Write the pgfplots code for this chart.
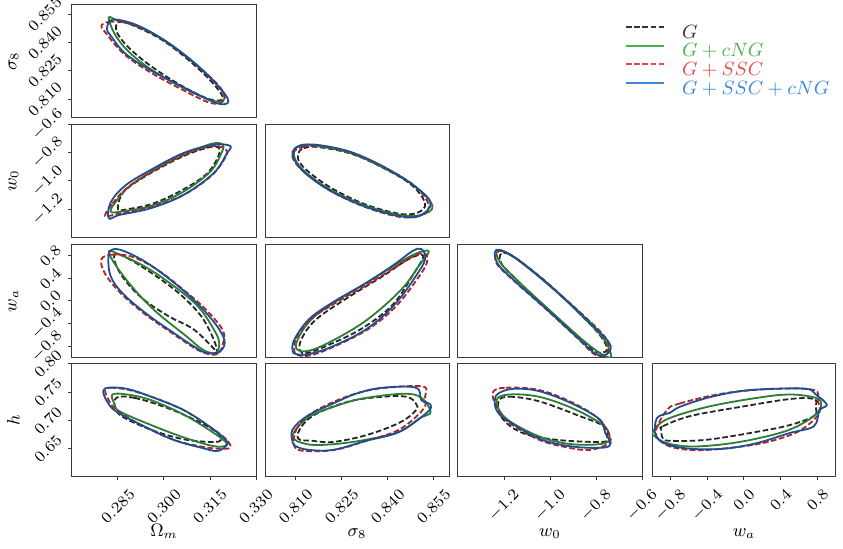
\RequirePackage{fix-cm}
\documentclass[border=0pt]{standalone}
\usepackage{graphicx}
\usepackage{xcolor}
\usepackage{pgfplots}
\pgfplotsset{compat=1.18}

\definecolor{axgray}{HTML}{3A3A3A}
\definecolor{cblack}{HTML}{262626}
\definecolor{cgreen}{HTML}{2E7D32}
\definecolor{cred}{HTML}{B22222}
\definecolor{cblue}{HTML}{1F4E93}
\definecolor{lblack}{HTML}{333333}
\definecolor{lgreen}{HTML}{4CAF50}
\definecolor{lred}{HTML}{E8484A}
\definecolor{lblue}{HTML}{3A86D8}

\tikzset{ylab/.style={rotate=45, anchor=center, inner sep=0pt, font=\fontsize{7.8}{9.5}\selectfont}}

\pgfplotsset{
  corner/.style={scale only axis, width=92pt, height=56.5pt, clip=true,
    axis line style={draw=axgray, line width=0.5pt},
    tick style={axgray, line width=0.5pt},
    tick align=outside, major tick length=1.75pt,
    xtick pos=left, ytick pos=left,
    xtick=\empty, ytick=\empty,
    scaled ticks=false,
    tick label style={font=\fontsize{7.8}{9.5}\selectfont, inner sep=0pt},
    xticklabel style={anchor=north, yshift=-3.75pt},
    xticklabel={\rotatebox{45}{$\pgfmathprintnumber{\tick}$}},
    label style={font=\fontsize{9}{11}\selectfont},
    xlabel style={at={(axis description cs:0.5,-0.53)}, anchor=base},
    ylabel style={at={(axis description cs:-0.318,0.5)}, anchor=center},
    anchor=north west},
  xOm/.style={xmin=0.27,xmax=0.33},
  xs8/.style={xmin=0.80,xmax=0.86},
  xw0/.style={xmin=-1.4,xmax=-0.6},
  xwa/.style={xmin=-1,xmax=1},
  ys8/.style={ymin=0.80,ymax=0.86},
  yw0/.style={ymin=-1.4,ymax=-0.6},
  ywa/.style={ymin=-1,ymax=1},
  yh/.style={ymin=0.6,ymax=0.8},
  sG/.style={cblack, line width=0.9pt, dash pattern=on 2.8pt off 1.3pt, smooth cycle, tension=0.6},
  sGc/.style={cgreen, line width=0.9pt, smooth cycle, tension=0.6},
  sGS/.style={cred, line width=0.9pt, dash pattern=on 2.8pt off 1.3pt, smooth cycle, tension=0.6},
  sGSc/.style={cblue, line width=0.9pt, smooth cycle, tension=0.6},
}

\begin{document}
\begin{tikzpicture}
\useasboundingbox (0pt,0pt) rectangle (421.5pt,-274.5pt);

% ---------- row 1: sigma8 vs Omega_m
\begin{axis}[corner, xOm, ys8, at={(36pt,-2.5pt)},
  ytick={0.810,0.825,0.840,0.855}, yticklabels={},
  ylabel={$\sigma_8$},
  extra description/.code={
    \node[ylab] at ([xshift=-13.5pt]axis description cs:0,0.1667) {$0.810$};
    \node[ylab] at ([xshift=-13.5pt]axis description cs:0,0.4167) {$0.825$};
    \node[ylab] at ([xshift=-13.5pt]axis description cs:0,0.6667) {$0.840$};
    \node[ylab] at ([xshift=-13.5pt]axis description cs:0,0.9167) {$0.855$};
  }]
\addplot[sG] coordinates {(0.2844,0.8492) (0.2862,0.8510) (0.2916,0.8480) (0.3000,0.8408) (0.3090,0.8294) (0.3162,0.8180) (0.3192,0.8102) (0.3144,0.8102) (0.3048,0.8180) (0.2952,0.8282) (0.2886,0.8372) (0.2850,0.8444)};
\addplot[sGc] coordinates {(0.2820,0.8534) (0.2850,0.8516) (0.2916,0.8486) (0.3000,0.8414) (0.3090,0.8306) (0.3168,0.8186) (0.3198,0.8108) (0.3162,0.8090) (0.3060,0.8162) (0.2952,0.8264) (0.2880,0.8360) (0.2838,0.8450)};
\addplot[sGS] coordinates {(0.2796,0.8492) (0.2820,0.8510) (0.2880,0.8504) (0.2976,0.8438) (0.3078,0.8318) (0.3174,0.8180) (0.3198,0.8102) (0.3156,0.8078) (0.3060,0.8150) (0.2952,0.8246) (0.2868,0.8342) (0.2808,0.8456)};
\addplot[sGSc] coordinates {(0.2814,0.8474) (0.2832,0.8522) (0.2904,0.8498) (0.2988,0.8426) (0.3084,0.8312) (0.3174,0.8174) (0.3210,0.8090) (0.3174,0.8078) (0.3072,0.8156) (0.2958,0.8252) (0.2874,0.8342) (0.2826,0.8438)};
\end{axis}

% ---------- row 2: w0
\begin{axis}[corner, xOm, yw0, at={(36pt,-62.25pt)},
  ytick={-1.2,-1.0,-0.8,-0.6}, yticklabels={},
  ylabel={$w_0$},
  extra description/.code={
    \node[ylab] at ([xshift=-12.3pt]axis description cs:0,0.25) {$-1.2$};
    \node[ylab] at ([xshift=-12.3pt]axis description cs:0,0.50) {$-1.0$};
    \node[ylab] at ([xshift=-12.3pt]axis description cs:0,0.75) {$-0.8$};
    \node[ylab] at ([xshift=-12.3pt]axis description cs:0,1.00) {$-0.6$};
  }]
\addplot[sG] coordinates {(0.2850,-1.200) (0.2862,-1.096) (0.2898,-1.024) (0.2976,-0.920) (0.3072,-0.816) (0.3150,-0.760) (0.3180,-0.768) (0.3174,-0.840) (0.3138,-0.952) (0.3060,-1.064) (0.2964,-1.160) (0.2880,-1.200)};
\addplot[sGc] coordinates {(0.2826,-1.216) (0.2844,-1.144) (0.2886,-1.040) (0.2970,-0.920) (0.3072,-0.808) (0.3156,-0.736) (0.3192,-0.744) (0.3186,-0.808) (0.3150,-0.936) (0.3060,-1.080) (0.2958,-1.176) (0.2862,-1.216)};
\addplot[sGS] coordinates {(0.2808,-1.248) (0.2832,-1.160) (0.2880,-1.048) (0.2964,-0.928) (0.3072,-0.808) (0.3162,-0.752) (0.3204,-0.784) (0.3198,-0.840) (0.3156,-0.960) (0.3066,-1.096) (0.2958,-1.184) (0.2850,-1.232)};
\addplot[sGSc] coordinates {(0.2820,-1.264) (0.2826,-1.152) (0.2874,-1.032) (0.2958,-0.920) (0.3066,-0.800) (0.3162,-0.744) (0.3216,-0.752) (0.3204,-0.808) (0.3162,-0.944) (0.3066,-1.096) (0.2958,-1.192) (0.2856,-1.240)};
\end{axis}

\begin{axis}[corner, xs8, yw0, at={(132.5pt,-62.25pt)}]
\addplot[sG] coordinates {(0.8108,-0.808) (0.8126,-0.768) (0.8174,-0.760) (0.8282,-0.808) (0.8390,-0.912) (0.8480,-1.032) (0.8522,-1.160) (0.8498,-1.224) (0.8438,-1.232) (0.8330,-1.168) (0.8228,-1.064) (0.8156,-0.960) (0.8114,-0.872)};
\addplot[sGc] coordinates {(0.8096,-0.784) (0.8120,-0.744) (0.8168,-0.752) (0.8276,-0.800) (0.8384,-0.904) (0.8486,-1.032) (0.8546,-1.176) (0.8510,-1.240) (0.8438,-1.240) (0.8330,-1.176) (0.8222,-1.072) (0.8144,-0.960) (0.8102,-0.864)};
\addplot[sGS] coordinates {(0.8090,-0.808) (0.8120,-0.760) (0.8180,-0.752) (0.8282,-0.800) (0.8390,-0.904) (0.8486,-1.032) (0.8534,-1.168) (0.8510,-1.240) (0.8444,-1.256) (0.8336,-1.192) (0.8228,-1.088) (0.8150,-0.976) (0.8102,-0.880)};
\addplot[sGSc] coordinates {(0.8090,-0.792) (0.8114,-0.752) (0.8168,-0.744) (0.8276,-0.792) (0.8384,-0.896) (0.8480,-1.024) (0.8540,-1.152) (0.8504,-1.248) (0.8438,-1.248) (0.8330,-1.184) (0.8222,-1.080) (0.8144,-0.968) (0.8102,-0.872)};
\end{axis}

% ---------- row 3: wa
\begin{axis}[corner, xOm, ywa, at={(36pt,-122.25pt)},
  ytick={-0.8,-0.4,0,0.4,0.8}, yticklabels={},
  ylabel={$w_a$},
  extra description/.code={
    \node[ylab] at ([xshift=-12.6pt]axis description cs:0,0.1) {$-0.8$};
    \node[ylab] at ([xshift=-12.6pt]axis description cs:0,0.3) {$-0.4$};
    \node[ylab] at ([xshift=-10.8pt]axis description cs:0,0.5) {$0.0$};
    \node[ylab] at ([xshift=-10.8pt]axis description cs:0,0.7) {$0.4$};
    \node[ylab] at ([xshift=-10.8pt]axis description cs:0,0.9) {$0.8$};
  }]
\addplot[sG] coordinates {(0.2838,0.82) (0.2880,0.76) (0.2958,0.50) (0.3048,0.14) (0.3120,-0.26) (0.3162,-0.68) (0.3174,-0.92) (0.3162,-0.84) (0.3096,-0.50) (0.3012,-0.26) (0.2922,0.08) (0.2856,0.50)};
\addplot[sGc] coordinates {(0.2820,0.88) (0.2856,0.82) (0.2934,0.62) (0.3018,0.32) (0.3108,-0.08) (0.3162,-0.50) (0.3180,-0.74) (0.3168,-0.92) (0.3126,-0.86) (0.3072,-0.62) (0.2976,-0.20) (0.2904,0.20) (0.2844,0.62)};
\addplot[sGS] coordinates {(0.2796,0.74) (0.2832,0.82) (0.2898,0.78) (0.2982,0.54) (0.3072,0.16) (0.3138,-0.16) (0.3192,-0.52) (0.3192,-0.76) (0.3174,-0.94) (0.3132,-0.92) (0.3090,-0.80) (0.3024,-0.56) (0.2940,-0.24) (0.2862,0.12) (0.2808,0.48)};
\addplot[sGSc] coordinates {(0.2820,0.82) (0.2844,0.92) (0.2904,0.80) (0.2976,0.56) (0.3060,0.20) (0.3126,-0.14) (0.3180,-0.50) (0.3198,-0.74) (0.3180,-0.90) (0.3138,-0.92) (0.3096,-0.80) (0.3030,-0.56) (0.2946,-0.24) (0.2868,0.12) (0.2826,0.44)};
\end{axis}

\begin{axis}[corner, xs8, ywa, at={(132.5pt,-122.25pt)}]
\addplot[sG] coordinates {(0.8114,-0.88) (0.8120,-0.66) (0.8168,-0.32) (0.8276,0.08) (0.8384,0.44) (0.8468,0.74) (0.8516,0.80) (0.8480,0.44) (0.8414,-0.08) (0.8312,-0.50) (0.8198,-0.80) (0.8138,-0.92)};
\addplot[sGc] coordinates {(0.8102,-0.84) (0.8114,-0.60) (0.8156,-0.30) (0.8228,-0.02) (0.8336,0.34) (0.8426,0.64) (0.8492,0.84) (0.8534,0.88) (0.8504,0.64) (0.8444,0.20) (0.8336,-0.32) (0.8228,-0.68) (0.8144,-0.88)};
\addplot[sGS] coordinates {(0.8096,-0.90) (0.8102,-0.66) (0.8150,-0.32) (0.8228,-0.04) (0.8336,0.30) (0.8426,0.60) (0.8486,0.80) (0.8522,0.84) (0.8528,0.68) (0.8498,0.40) (0.8426,-0.10) (0.8336,-0.50) (0.8228,-0.80) (0.8150,-0.96) (0.8108,-0.96)};
\addplot[sGSc] coordinates {(0.8090,-0.88) (0.8096,-0.68) (0.8144,-0.32) (0.8222,-0.02) (0.8330,0.32) (0.8420,0.64) (0.8480,0.88) (0.8510,0.92) (0.8522,0.74) (0.8492,0.44) (0.8420,-0.08) (0.8330,-0.50) (0.8222,-0.80) (0.8144,-0.94) (0.8102,-0.94)};
\end{axis}

\begin{axis}[corner, xw0, ywa, at={(229pt,-122.25pt)}]
\addplot[sG] coordinates {(-1.216,0.82) (-1.184,0.84) (-1.128,0.70) (-1.000,0.28) (-0.872,-0.22) (-0.784,-0.60) (-0.752,-0.84) (-0.776,-0.92) (-0.816,-0.86) (-0.880,-0.62) (-1.016,-0.12) (-1.136,0.34) (-1.208,0.64)};
\addplot[sGc] coordinates {(-1.232,0.88) (-1.200,0.88) (-1.136,0.72) (-1.008,0.30) (-0.872,-0.22) (-0.776,-0.62) (-0.744,-0.84) (-0.736,-1.00) (-0.784,-0.92) (-0.872,-0.64) (-1.008,-0.14) (-1.136,0.34) (-1.216,0.68)};
\addplot[sGS] coordinates {(-1.232,0.84) (-1.208,0.88) (-1.136,0.72) (-1.008,0.30) (-0.864,-0.22) (-0.768,-0.60) (-0.744,-0.80) (-0.760,-0.96) (-0.808,-0.94) (-0.880,-0.66) (-1.024,-0.12) (-1.152,0.34) (-1.232,0.66)};
\addplot[sGSc] coordinates {(-1.240,0.86) (-1.216,0.90) (-1.144,0.74) (-1.016,0.32) (-0.872,-0.20) (-0.768,-0.62) (-0.736,-0.80) (-0.752,-0.94) (-0.800,-0.94) (-0.872,-0.68) (-1.016,-0.14) (-1.144,0.32) (-1.224,0.64)};
\end{axis}

% ---------- row 4: h
\begin{axis}[corner, xOm, yh, at={(36pt,-182pt)},
  xtick={0.285,0.300,0.315,0.330},
  xticklabel style={/pgf/number format/.cd,fixed,fixed zerofill,precision=3},
  ytick={0.65,0.70,0.75,0.80}, yticklabels={},
  xlabel={$\Omega_m$}, ylabel={$h$},
  extra description/.code={
    \node[ylab] at ([xshift=-12pt]axis description cs:0,0.25) {$0.65$};
    \node[ylab] at ([xshift=-12pt]axis description cs:0,0.50) {$0.70$};
    \node[ylab] at ([xshift=-12pt]axis description cs:0,0.75) {$0.75$};
    \node[ylab] at ([xshift=-12pt]axis description cs:0,1.00) {$0.80$};
  }]
\addplot[sG] coordinates {(0.2844,0.740) (0.2904,0.740) (0.3012,0.722) (0.3120,0.696) (0.3174,0.678) (0.3186,0.666) (0.3162,0.662) (0.3072,0.666) (0.2976,0.680) (0.2880,0.702) (0.2844,0.718)};
\addplot[sGc] coordinates {(0.2832,0.746) (0.2880,0.746) (0.2958,0.736) (0.3066,0.710) (0.3162,0.678) (0.3204,0.660) (0.3192,0.654) (0.3150,0.656) (0.3054,0.672) (0.2958,0.692) (0.2856,0.716) (0.2838,0.730)};
\addplot[sGS] coordinates {(0.2808,0.754) (0.2826,0.758) (0.2886,0.754) (0.2970,0.740) (0.3072,0.716) (0.3162,0.684) (0.3204,0.666) (0.3216,0.652) (0.3180,0.650) (0.3120,0.654) (0.3030,0.666) (0.2934,0.690) (0.2850,0.716) (0.2820,0.736)};
\addplot[sGSc] coordinates {(0.2802,0.752) (0.2820,0.758) (0.2880,0.756) (0.2958,0.742) (0.3066,0.718) (0.3162,0.684) (0.3204,0.664) (0.3204,0.656) (0.3174,0.646) (0.3120,0.652) (0.3030,0.666) (0.2934,0.690) (0.2844,0.716) (0.2814,0.734)};
\end{axis}

\begin{axis}[corner, xs8, yh, at={(132.5pt,-182pt)},
  xtick={0.810,0.825,0.840,0.855},
  xticklabel style={/pgf/number format/.cd,fixed,fixed zerofill,precision=3},
  xlabel={$\sigma_8$}]
\addplot[sG] coordinates {(0.8108,0.668) (0.8120,0.690) (0.8168,0.712) (0.8276,0.734) (0.8384,0.742) (0.8462,0.742) (0.8492,0.730) (0.8492,0.718) (0.8438,0.696) (0.8330,0.674) (0.8222,0.662) (0.8156,0.664)};
\addplot[sGc] coordinates {(0.8090,0.672) (0.8138,0.704) (0.8222,0.724) (0.8330,0.740) (0.8486,0.746) (0.8540,0.716) (0.8504,0.704) (0.8438,0.680) (0.8330,0.666) (0.8222,0.658) (0.8138,0.658)};
\addplot[sGS] coordinates {(0.8096,0.654) (0.8102,0.684) (0.8144,0.710) (0.8228,0.734) (0.8312,0.750) (0.8396,0.758) (0.8516,0.760) (0.8522,0.742) (0.8516,0.720) (0.8438,0.684) (0.8330,0.664) (0.8228,0.648) (0.8132,0.646)};
\addplot[sGSc] coordinates {(0.8090,0.662) (0.8090,0.684) (0.8138,0.708) (0.8222,0.730) (0.8300,0.748) (0.8384,0.758) (0.8492,0.758) (0.8510,0.736) (0.8540,0.728) (0.8528,0.714) (0.8438,0.680) (0.8330,0.664) (0.8222,0.648) (0.8144,0.648) (0.8102,0.654)};
\end{axis}

\begin{axis}[corner, xw0, yh, at={(229pt,-182pt)},
  xtick={-1.2,-1.0,-0.8,-0.6},
  xticklabel style={/pgf/number format/.cd,fixed,fixed zerofill,precision=1},
  xlabel={$w_0$}]
\addplot[sG] coordinates {(-1.224,0.734) (-1.176,0.742) (-1.048,0.734) (-0.872,0.708) (-0.768,0.690) (-0.752,0.668) (-0.784,0.662) (-0.976,0.666) (-1.120,0.678) (-1.208,0.704)};
\addplot[sGc] coordinates {(-1.232,0.736) (-1.176,0.746) (-1.048,0.742) (-0.904,0.722) (-0.784,0.696) (-0.744,0.678) (-0.760,0.660) (-0.904,0.658) (-1.048,0.672) (-1.192,0.704)};
\addplot[sGS] coordinates {(-1.248,0.750) (-1.192,0.758) (-1.048,0.754) (-0.904,0.732) (-0.792,0.704) (-0.744,0.676) (-0.744,0.660) (-0.824,0.648) (-0.920,0.652) (-1.048,0.666) (-1.184,0.698) (-1.232,0.724)};
\addplot[sGSc] coordinates {(-1.240,0.736) (-1.224,0.748) (-1.160,0.756) (-1.048,0.752) (-0.904,0.730) (-0.784,0.702) (-0.760,0.678) (-0.736,0.660) (-0.768,0.652) (-0.904,0.654) (-1.048,0.668) (-1.192,0.702) (-1.232,0.718)};
\end{axis}

\begin{axis}[corner, xwa, yh, at={(326pt,-182pt)},
  xtick={-0.8,-0.4,0,0.4,0.8},
  xticklabel style={/pgf/number format/.cd,fixed,fixed zerofill,precision=1},
  xlabel={$w_a$}]
\addplot[sG] coordinates {(-0.90,0.684) (-0.88,0.690) (-0.58,0.708) (-0.04,0.724) (0.50,0.738) (0.76,0.738) (0.78,0.724) (0.76,0.708) (0.50,0.692) (0.14,0.680) (-0.40,0.666) (-0.78,0.664) (-0.88,0.668)};
\addplot[sGc] coordinates {(-0.99,0.680) (-0.84,0.702) (-0.40,0.724) (0.14,0.740) (0.50,0.746) (0.78,0.740) (0.84,0.728) (0.76,0.708) (0.50,0.684) (0.14,0.668) (-0.22,0.658) (-0.58,0.654) (-0.84,0.660) (-0.97,0.672)};
\addplot[sGS] coordinates {(-0.84,0.718) (-0.70,0.730) (-0.22,0.748) (0.32,0.756) (0.76,0.754) (0.80,0.736) (0.82,0.714) (0.68,0.690) (0.50,0.674) (0.14,0.658) (-0.40,0.648) (-0.70,0.650) (-0.88,0.660) (-0.96,0.680)};
\addplot[sGSc] coordinates {(-0.96,0.698) (-0.92,0.708) (-0.80,0.714) (-0.70,0.724) (-0.40,0.740) (-0.04,0.752) (0.32,0.756) (0.68,0.756) (0.78,0.746) (0.90,0.728) (0.82,0.718) (0.76,0.690) (0.50,0.678) (0.14,0.660) (-0.22,0.650) (-0.58,0.650) (-0.84,0.658) (-0.96,0.674)};
\end{axis}

% ---------- legend
\begin{axis}[at={(312.5pt,-12.15pt)}, anchor=north west, scale only axis,
  width=40pt, height=40pt, hide axis, xmin=0, xmax=1, ymin=0, ymax=1,
  legend style={at={(0,1)}, anchor=north west, draw=none, fill=none,
    inner sep=0pt, outer sep=0pt, row sep=0pt,
    font=\fontsize{9.6}{11}\selectfont,
    nodes={inner sep=0pt, text height=7pt, text depth=2.35pt},
    /tikz/every odd column/.append style={column sep=8.5pt}},
  legend cell align=left,
  legend image code/.code={\draw[#1] (0pt,3.3pt) -- (19pt,3.3pt);}]
\addlegendimage{lblack, line width=1pt, dash pattern=on 2.8pt off 1.3pt}
\addlegendentry{\textcolor{lblack}{$G$}}
\addlegendimage{lgreen, line width=1pt}
\addlegendentry{\textcolor{lgreen}{$G+cNG$}}
\addlegendimage{lred, line width=1pt, dash pattern=on 2.8pt off 1.3pt}
\addlegendentry{\textcolor{lred}{$G+SSC$}}
\addlegendimage{lblue, line width=1pt}
\addlegendentry{\textcolor{lblue}{$G+SSC+cNG$}}
\end{axis}
\end{tikzpicture}
\end{document}
